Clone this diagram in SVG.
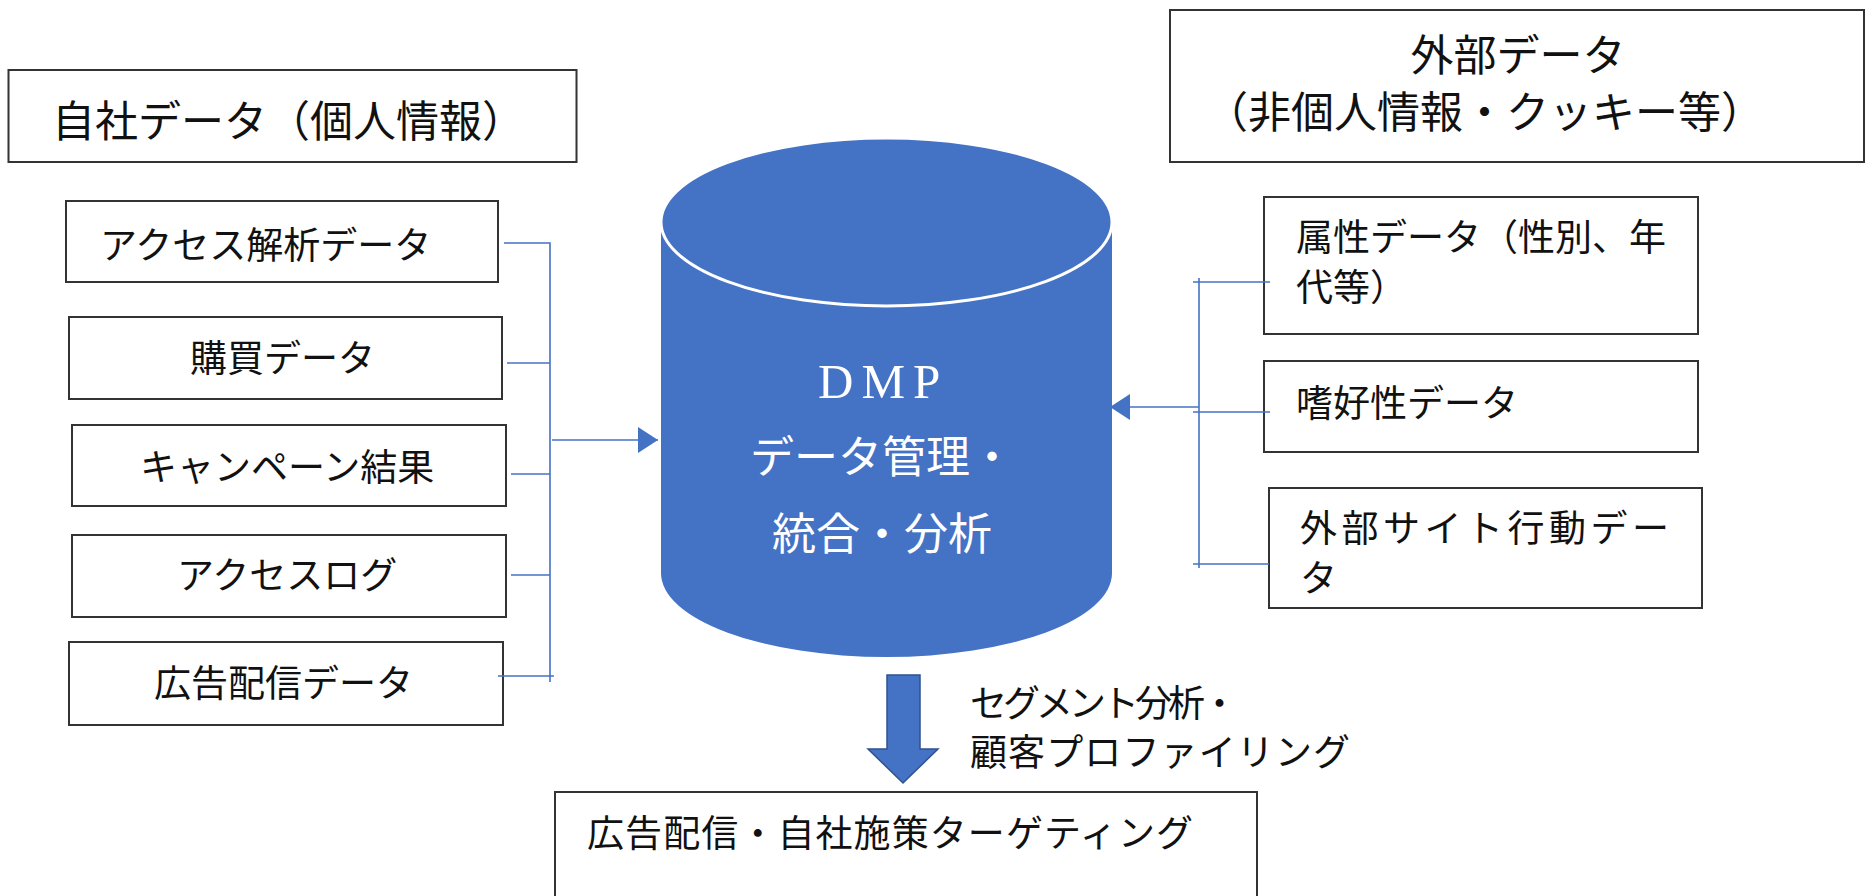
<svg xmlns="http://www.w3.org/2000/svg" width="1866" height="896" viewBox="0 0 1866 896">
<style>
.box{fill:#fff;stroke:#333;stroke-width:2}
.t{font-family:"Noto Sans CJK JP","Noto Sans CJK SC",sans-serif;fill:#111;font-size:37px}
.tt{font-size:43px}
.w{fill:#fff;font-size:44px}
.c{fill:none;stroke:#4472C4;stroke-width:1.6}
</style>
<defs>
<marker id="ah" markerUnits="userSpaceOnUse" markerWidth="20" markerHeight="26" refX="20" refY="13" orient="auto">
<path d="M0,0 L20,13 L0,26 Z" fill="#4472C4"/>
</marker>
</defs>
<rect width="1866" height="896" fill="#fff"/>

<g id="title-left">
<rect class="box" x="8.5" y="70" width="568" height="92"/>
<text class="t tt" x="52" y="137">自社データ（個人情報）</text>
</g>
<g id="title-right">
<rect class="box" x="1170" y="10" width="694" height="152"/>
<text class="t tt" x="1518" y="71" text-anchor="middle">外部データ</text>
<text class="t tt" x="1205" y="128">（非個人情報・クッキー等）</text>
</g>

<g id="n-access">
<rect class="box" x="66" y="201" width="432" height="81"/>
<text class="t" x="100" y="259">アクセス解析データ</text>
</g>
<g id="n-purchase">
<rect class="box" x="69" y="317" width="433" height="82"/>
<text class="t" x="190" y="372">購買データ</text>
</g>
<g id="n-campaign">
<rect class="box" x="72" y="425" width="434" height="81"/>
<text class="t" x="140" y="481">キャンペーン結果</text>
</g>
<g id="n-accesslog">
<rect class="box" x="72" y="535" width="434" height="82"/>
<text class="t" x="177" y="589">アクセスログ</text>
</g>
<g id="n-addata">
<rect class="box" x="69" y="642" width="434" height="83"/>
<text class="t" x="154" y="697">広告配信データ</text>
</g>

<g id="n-attr">
<rect class="box" x="1264" y="197" width="434" height="137"/>
<text class="t" x="1296" y="251">属性データ（性別、年</text>
<text class="t" x="1296" y="301">代等）</text>
</g>
<g id="n-pref">
<rect class="box" x="1264" y="361" width="434" height="91"/>
<text class="t" x="1296" y="417">嗜好性データ</text>
</g>
<g id="n-extsite">
<rect class="box" x="1269" y="488" width="433" height="120"/>
<text class="t" x="1300" y="542" textLength="369" lengthAdjust="spacing">外部サイト行動デー</text>
<text class="t" x="1300" y="592">タ</text>
</g>

<g id="n-dmp">
<path d="M661,222 L661,573 A225.5,84 0 0 0 1112,573 L1112,222 Z" fill="#4472C4"/>
<ellipse cx="886.5" cy="222" rx="225.5" ry="84" fill="#4472C4" stroke="#fff" stroke-width="3"/>
<text x="818" y="398" font-family="Liberation Serif, serif" font-size="49" fill="#fff" letter-spacing="8">DMP</text>
<text class="t w" x="882" y="473" text-anchor="middle">データ管理・</text>
<text class="t w" x="882" y="550" text-anchor="middle">統合・分析</text>
</g>

<g id="n-target">
<rect class="box" x="555" y="792" width="702" height="110"/>
<text class="t" x="587" y="847" textLength="606" lengthAdjust="spacing">広告配信・自社施策ターゲティング</text>
</g>

<g id="big-arrow">
<path d="M887,675 L920,675 L920,749 L938,749 L903,783 L868,749 L887,749 Z" fill="#4472C4" stroke="#2F528F" stroke-width="1.5"/>
<text class="t" x="970" y="717" textLength="268" lengthAdjust="spacing">セグメント分析・</text>
<text class="t" x="970" y="766" textLength="380" lengthAdjust="spacing">顧客プロファイリング</text>
</g>

<g id="connectors">
<path class="c" d="M504,243 L550,243 L550,682"/>
<path class="c" d="M507,363 L550,363"/>
<path class="c" d="M511,474 L550,474"/>
<path class="c" d="M511,575 L550,575"/>
<path class="c" d="M498,676 L554,676"/>
<path class="c" d="M552,440 L658,440" marker-end="url(#ah)"/>
<path class="c" d="M1199,278 L1199,568"/>
<path class="c" d="M1193,282 L1270,282"/>
<path class="c" d="M1193,412 L1270,412"/>
<path class="c" d="M1193,564 L1269,564"/>
<path class="c" d="M1199,407 L1110,407" marker-end="url(#ah)"/>
</g>
</svg>
